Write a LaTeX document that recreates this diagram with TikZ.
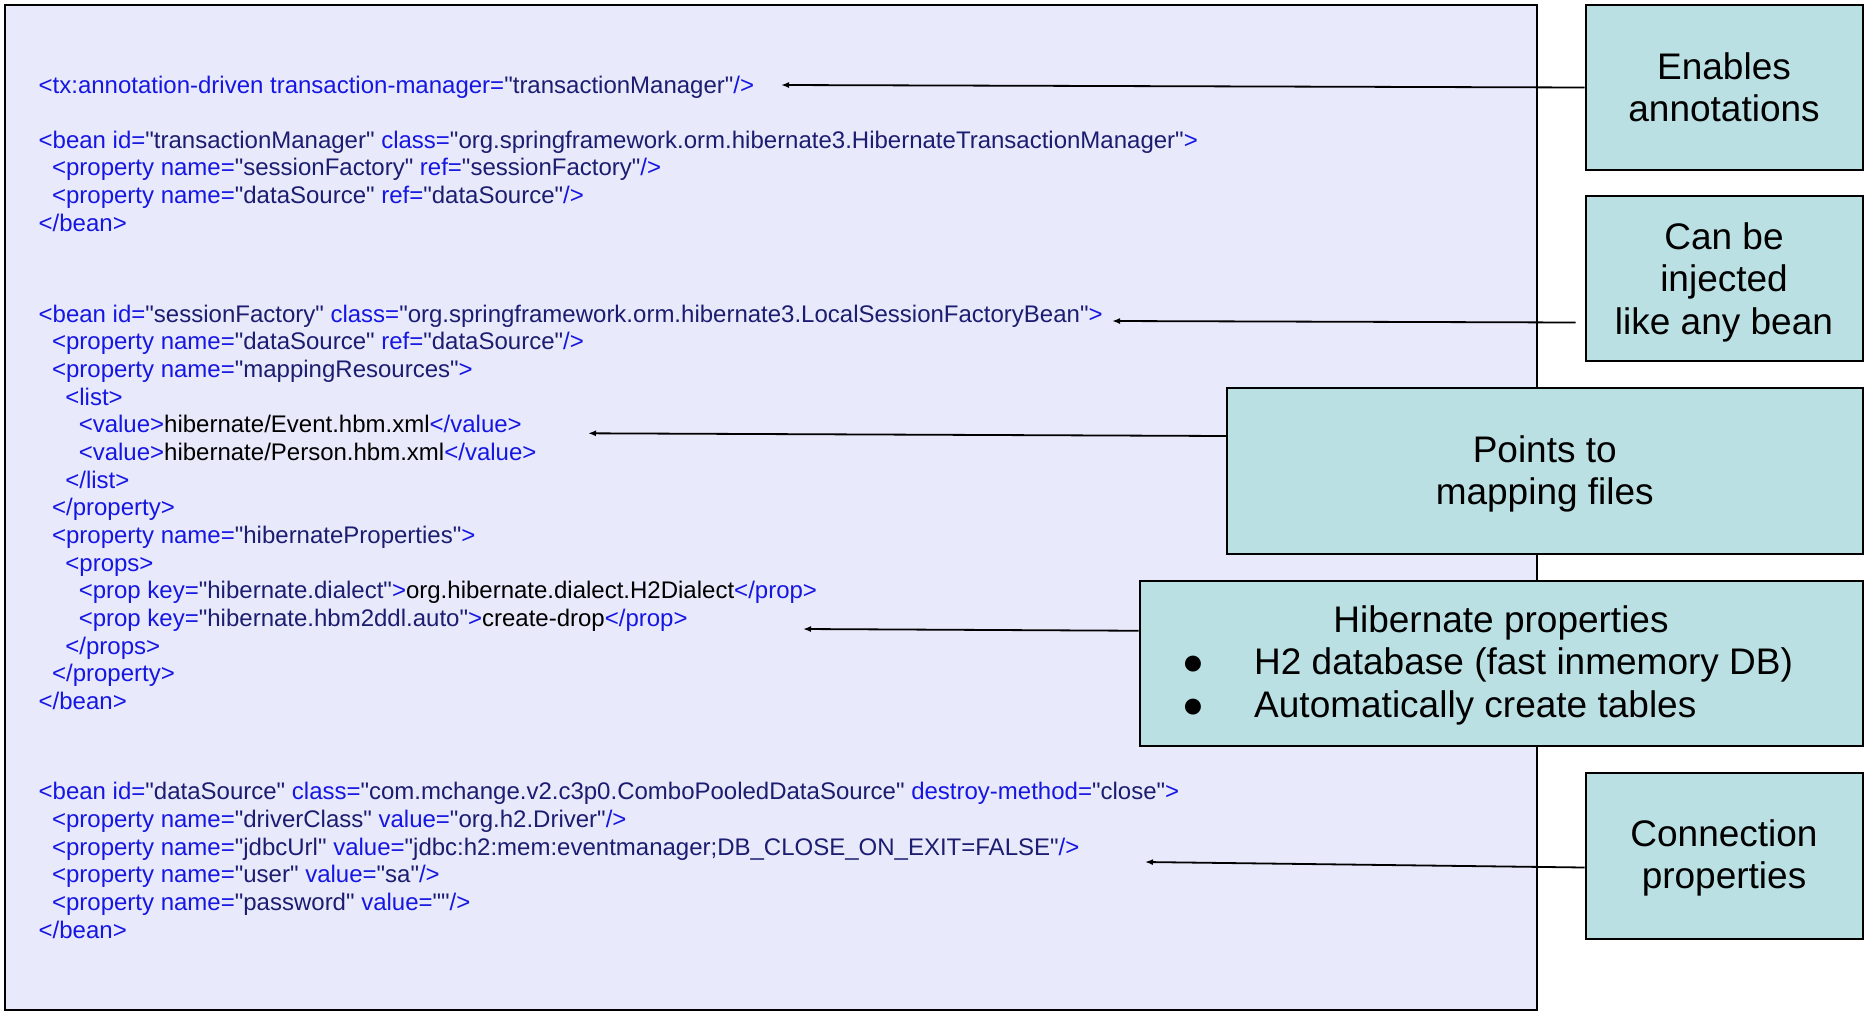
\documentclass[tikz,border=0pt]{standalone}
\usepackage{fontspec}
\setmainfont{Liberation Sans}[Ligatures=TeXOff]
\usetikzlibrary{arrows.meta,calc}
\definecolor{codebg}{RGB}{232,234,251}
\definecolor{calloutbg}{RGB}{187,224,227}
\definecolor{tagblue}{RGB}{22,22,226}
\definecolor{valnavy}{RGB}{28,28,112}
\newcommand{\Tg}[1]{\textcolor{tagblue}{#1}}
\newcommand{\Vl}[1]{\textcolor{valnavy}{#1}}
\tikzset{
  codeline/.style={anchor=base west, inner sep=0pt, font=\fontsize{24}{27.65}\selectfont},
  callout/.style={draw=black, line width=2pt, fill=calloutbg, inner sep=0pt},
  callouttext/.style={inner sep=0pt, align=center, font=\fontsize{37}{42.5}\selectfont},
  pointer/.style={line width=1.8pt, -{Latex[length=8pt,width=6pt]}},
}
\begin{document}
\begin{tikzpicture}[x=1pt,y=-1pt]
\useasboundingbox (0,0) rectangle (1864,1012);
% code panel
\draw[line width=2pt, fill=codebg] (4.5,4.5) rectangle (1536.5,1009.5);

% code lines
\def\La{38.5}\def\Lb{51.9}\def\Lc{65.2}\def\Ld{78.6}
\node[codeline] (c1) at (\La,93.2) {\Tg{<tx:annotation-driven transaction-manager=}\Vl{"transactionManager"}\Tg{/>}};

\node[codeline] (c2) at (\La,148.2) {\Tg{<bean id=}\Vl{"transactionManager"} \Tg{class=}\Vl{"org.springframework.orm.hibernate3.HibernateTransactionManager"}\Tg{>}};
\node[codeline] (c3) at (\Lb,175.85) {\Tg{<property name=}\Vl{"sessionFactory"} \Tg{ref=}\Vl{"sessionFactory"}\Tg{/>}};
\node[codeline] (c4) at (\Lb,203.5) {\Tg{<property name=}\Vl{"dataSource"} \Tg{ref=}\Vl{"dataSource"}\Tg{/>}};
\node[codeline] (c5) at (\La,231.15) {\Tg{</bean>}};

\node[codeline] (c6) at (\La,322.3) {\Tg{<bean id=}\Vl{"sessionFactory"} \Tg{class=}\Vl{"org.springframework.orm.hibernate3.LocalSessionFactoryBean"}\Tg{>}};
\node[codeline] (c7) at (\Lb,349.95) {\Tg{<property name=}\Vl{"dataSource"} \Tg{ref=}\Vl{"dataSource"}\Tg{/>}};
\node[codeline] (c8) at (\Lb,377.6) {\Tg{<property name=}\Vl{"mappingResources"}\Tg{>}};
\node[codeline] (c9) at (\Lc,405.25) {\Tg{<list>}};
\node[codeline] (c10) at (\Ld,432.9) {\Tg{<value>}hibernate/Event.hbm.xml\Tg{</value>}};
\node[codeline] (c11) at (\Ld,460.55) {\Tg{<value>}hibernate/Person.hbm.xml\Tg{</value>}};
\node[codeline] (c12) at (\Lc,488.2) {\Tg{</list>}};
\node[codeline] (c13) at (\Lb,515.85) {\Tg{</property>}};
\node[codeline] (c14) at (\Lb,543.5) {\Tg{<property name=}\Vl{"hibernateProperties"}\Tg{>}};
\node[codeline] (c15) at (\Lc,571.15) {\Tg{<props>}};
\node[codeline] (c16) at (\Ld,598.8) {\Tg{<prop key=}\Vl{"hibernate.dialect"}\Tg{>}org.hibernate.dialect.H2Dialect\Tg{</prop>}};
\node[codeline] (c17) at (\Ld,626.45) {\Tg{<prop key=}\Vl{"hibernate.hbm2ddl.auto"}\Tg{>}create-drop\Tg{</prop>}};
\node[codeline] (c18) at (\Lc,654.1) {\Tg{</props>}};
\node[codeline] (c19) at (\Lb,681.75) {\Tg{</property>}};
\node[codeline] (c20) at (\La,709.4) {\Tg{</bean>}};

\node[codeline] (c21) at (\La,799.8) {\Tg{<bean id=}\Vl{"dataSource"} \Tg{class=}\Vl{"com.mchange.v2.c3p0.ComboPooledDataSource"} \Tg{destroy-method=}\Vl{"close"}\Tg{>}};
\node[codeline] (c22) at (\Lb,827.45) {\Tg{<property name=}\Vl{"driverClass"} \Tg{value=}\Vl{"org.h2.Driver"}\Tg{/>}};
\node[codeline] (c23) at (\Lb,855.1) {\Tg{<property name=}\Vl{"jdbcUrl"} \Tg{value=}\Vl{"jdbc:h2:mem:eventmanager;DB\_CLOSE\_ON\_EXIT=FALSE"}\Tg{/>}};
\node[codeline] (c24) at (\Lb,882.75) {\Tg{<property name=}\Vl{"user"} \Tg{value=}\Vl{"sa"}\Tg{/>}};
\node[codeline] (c25) at (\Lb,910.4) {\Tg{<property name=}\Vl{"password"} \Tg{value=}\Vl{""}\Tg{/>}};
\node[codeline] (c26) at (\La,938.05) {\Tg{</bean>}};

% callouts
\node[callout, minimum width=277pt, minimum height=165pt] (b1) at (1724,87.5) {};
\node[callouttext] (b1t) at ([yshift=0pt]b1.center) {Enables\\annotations};
\node[callout, minimum width=277pt, minimum height=165pt] (b2) at (1724,278.5) {};
\node[callouttext] (b2t) at ([yshift=-3.5pt]b2.center) {Can be\\injected\\like any bean};
\node[callout, minimum width=635.5pt, minimum height=166pt] (b3) at (1544.75,471) {};
\node[callouttext] (b3t) at ([yshift=-3pt]b3.center) {Points to\\mapping files};
\node[callout, minimum width=723pt, minimum height=165.5pt] (b4) at (1501,663.25) {};
\node[callouttext, anchor=base] (b4t) at (1501,632) {Hibernate properties};
\node[callouttext, anchor=base] (b4u) at (1193,674.5) {●};
\node[callouttext, anchor=base west] (b4a) at (1254,674.5) {H2 database (fast inmemory DB)};
\node[callouttext, anchor=base] (b4v) at (1193,717) {●};
\node[callouttext, anchor=base west] (b4b) at (1254,717) {Automatically create tables};
\node[callout, minimum width=277pt, minimum height=166pt] (b5) at (1724,855.5) {};
\node[callouttext] (b5t) at ([yshift=-2.5pt]b5.center) {Connection\\properties};

% pointer tips
\coordinate (t1) at (781,85);
\coordinate (t2) at (1112,321);
\coordinate (t3) at (588,433.3);
\coordinate (t4) at (803,629);
\coordinate (t5) at (1145,862);

\draw[pointer] (b1.west) -- (t1);
\draw[pointer] ([xshift=-9pt,yshift=-44pt]b2.west) -- (t2);
\draw[pointer] ([yshift=35pt]b3.west) -- (t3);
\draw[pointer] ([yshift=32.5pt]b4.west) -- (t4);
\draw[pointer] ([yshift=-12pt]b5.west) -- (t5);
\end{tikzpicture}
\end{document}
